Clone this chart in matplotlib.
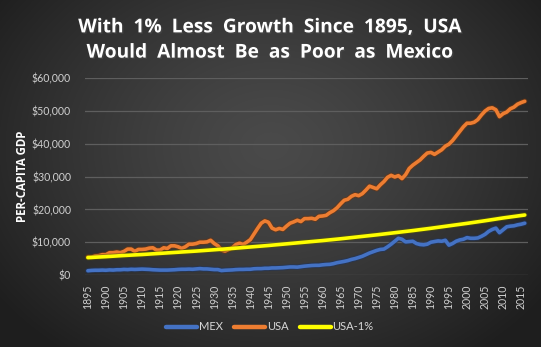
import numpy as np
import matplotlib
matplotlib.use("Agg")
import matplotlib.pyplot as plt
import matplotlib.patheffects as pe

# ---------------- data ----------------
years = list(range(1895, 2017))

usa = [5500, 5400, 5800, 5900, 6200, 6200, 6800, 6800, 7000, 6800,
       7200, 7900, 7900, 7200, 7800, 7800, 7900, 8200, 8300, 7600,
       7600, 8300, 8100, 8900, 8900, 8600, 8100, 8600, 9400, 9400,
       9600, 10000, 10000, 10100, 10600, 9600, 8900, 7600, 7300, 7800,
       8300, 9300, 9700, 9300, 10000, 10800, 12500, 14200, 15800, 16500,
       16100, 14300, 13800, 14200, 13900, 14900, 15800, 16200, 16700, 16300,
       17200, 17200, 17300, 17000, 17900, 18000, 18200, 19000, 19600, 20500,
       21700, 22800, 23100, 24000, 24500, 24200, 24800, 25900, 27100, 26700,
       26300, 27500, 28500, 29800, 30400, 29900, 30300, 29400, 30600, 32500,
       33500, 34300, 35100, 36200, 37200, 37400, 36800, 37500, 38200, 39300,
       39900, 41000, 42400, 43800, 45200, 46300, 46300, 46600, 47400, 48800,
       50000, 50800, 51000, 50400, 48300, 49200, 49700, 50700, 51200, 52100,
       52600, 53000]

mex = [1300, 1400, 1450, 1450, 1500, 1450, 1550, 1500, 1600, 1600,
       1700, 1650, 1750, 1700, 1750, 1800, 1750, 1700, 1600, 1550,
       1500, 1500, 1500, 1550, 1600, 1700, 1750, 1750, 1800, 1750,
       1850, 1950, 1850, 1850, 1750, 1650, 1650, 1350, 1450, 1500,
       1550, 1650, 1700, 1700, 1750, 1750, 1900, 1950, 1950, 2050,
       2050, 2150, 2150, 2200, 2250, 2350, 2450, 2450, 2400, 2550,
       2700, 2800, 2900, 2950, 2950, 3100, 3200, 3250, 3450, 3750,
       3950, 4150, 4400, 4750, 5000, 5350, 5700, 6200, 6700, 7100,
       7500, 7800, 7900, 8600, 9400, 10300, 11200, 10900, 10100, 10200,
       10300, 9600, 9300, 9200, 9400, 10000, 10200, 10400, 10300, 10600,
       9100, 9600, 10300, 10700, 10900, 11400, 11200, 11200, 11300, 11800,
       12400, 13300, 13900, 14300, 12900, 13800, 14700, 14900, 15000, 15300,
       15500, 15800]

usa1_years = [1895, 1900, 1905, 1910, 1915, 1920, 1925, 1930, 1935, 1940,
              1945, 1950, 1955, 1960, 1965, 1970, 1975, 1980, 1985, 1990,
              1995, 2000, 2005, 2010, 2016]
usa1 = [5300, 5600, 5950, 6250, 6600, 6950, 7300, 7700, 8100, 8550,
        9000, 9500, 10000, 10500, 11050, 11650, 12250, 12900, 13550, 14250,
        15000, 15750, 16550, 17400, 18300]

tick_years = list(range(1895, 2016, 5))
y_ticks = [0, 10000, 20000, 30000, 40000, 50000, 60000]
y_labels = ["$0", "$10,000", "$20,000", "$30,000", "$40,000", "$50,000", "$60,000"]

title = "With  1%  Less  Growth  Since  1895,  USA\nWould  Almost  Be  as  Poor  as  Mexico"
ylabel = "PER-CAPITA GDP"
series_names = ["MEX", "USA", "USA-1%"]
colors = ["#4472C4", "#ED7D31", "#FFFF00"]

# ---------------- figure ----------------
W, H = 541, 347
fig = plt.figure(figsize=(W / 100, H / 100), dpi=100)

# radial gradient background
bg = fig.add_axes([0, 0, 1, 1], zorder=-10)
yy, xx = np.mgrid[0:H, 0:W]
cx, cy = W * 0.5, H * 0.42
r = np.sqrt(((xx - cx) / (W * 0.62)) ** 2 + ((yy - cy) / (H * 0.75)) ** 2)
r = np.clip(r, 0, 1)
g = 0.29 - 0.17 * r ** 1.3
img = np.dstack([g, g, g])
bg.imshow(img, aspect="auto", extent=[0, 1, 0, 1], origin="upper")
bg.axis("off")

ax = fig.add_axes([85 / W, 1 - 275 / H, (528 - 85) / W, (275 - 78.3) / H])
ax.set_facecolor("none")
for s in ax.spines.values():
    s.set_visible(False)

ax.set_xlim(1894.2, 2016.9)
ax.set_ylim(0, 60000)
ax.set_yticks(y_ticks)
ax.set_yticklabels(y_labels)
ax.yaxis.grid(True, color="#5e5e5e", linewidth=0.9)
ax.set_axisbelow(True)
ax.set_xticks(tick_years)
ax.set_xticklabels([str(y) for y in tick_years], rotation=90)
ax.tick_params(axis="both", length=0, colors="#d0d0d0", labelsize=7.6)
ax.tick_params(axis="y", pad=10)
ax.tick_params(axis="x", pad=7)
for lab in ax.get_xticklabels() + ax.get_yticklabels():
    lab.set_family("Lato")

dark = ["#1f3560", "#6e3510", "#5a5a00"]
lw = 2.6
ax.plot(years, mex, color=colors[0], lw=lw, label=series_names[0],
        solid_capstyle="round", zorder=3,
        path_effects=[pe.Stroke(linewidth=lw + 1.4, foreground=dark[0], alpha=0.6), pe.Normal()])
ax.plot(years, usa, color=colors[1], lw=lw, label=series_names[1],
        solid_capstyle="round", zorder=4,
        path_effects=[pe.Stroke(linewidth=lw + 1.4, foreground=dark[1], alpha=0.6), pe.Normal()])
ax.plot(usa1_years, usa1, color=colors[2], lw=lw, label=series_names[2],
        solid_capstyle="round", zorder=5,
        path_effects=[pe.Stroke(linewidth=lw + 1.4, foreground=dark[2], alpha=0.5), pe.Normal()])

fig.text(23 / W, 1 - 176 / H, ylabel, rotation=90, color="white",
         fontsize=8.3, fontweight="bold", family="Open Sans",
         ha="center", va="center")

fig.text(270 / W, 1 - 40 / H, title, color="white", fontsize=13.8,
         fontweight="bold", family="Open Sans", ha="center", va="center",
         linespacing=1.35,
         path_effects=[pe.withSimplePatchShadow(offset=(1, -1), alpha=0.5)])

leg = fig.legend(loc="center", bbox_to_anchor=(270 / W, 1 - 327 / H), ncol=3,
                 frameon=False, handlelength=2.8, handletextpad=0.15,
                 columnspacing=1.0, prop={"family": "Lato", "size": 8})
for t in leg.get_texts():
    t.set_color("#d8d8d8")
for l in leg.get_lines():
    l.set_linewidth(3.2)
    l.set_path_effects([])

fig.savefig("out.png", dpi=100)
